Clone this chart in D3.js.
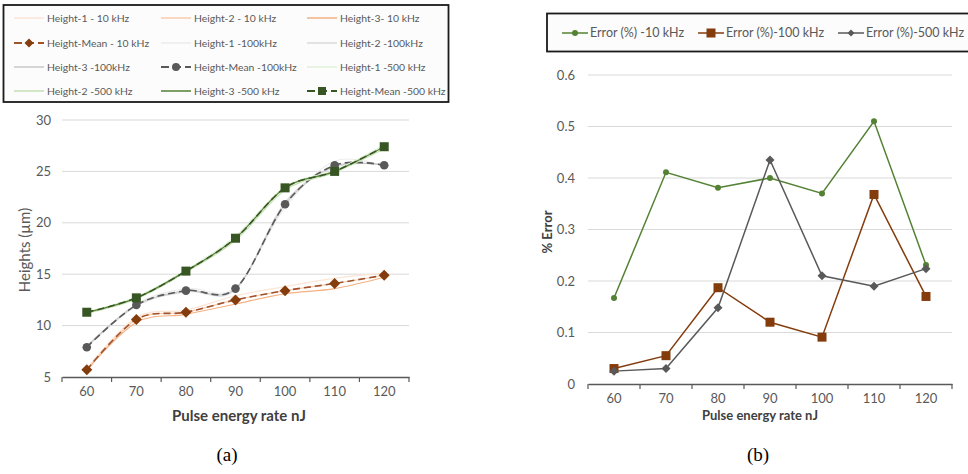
<!DOCTYPE html>
<html>
<head>
<meta charset="utf-8">
<script src="https://cdn.jsdelivr.net/npm/d3@7"></script>
<style>
  body { margin: 0; background: #fff; }
  text { font-family: Lato, "Open Sans", sans-serif; }
</style>
</head>
<body>
<svg id="fig" width="968" height="474"></svg>
<script>
// x categories (nJ)
const energies = [60, 70, 80, 90, 100, 110, 120];

// (a) heights in µm
const h1_10k   = [5.8, 10.8, 11.5, 12.9, 13.8, 14.6, 15.1];
const h2_10k   = [5.6, 10.6, 11.3, 12.5, 13.4, 14.1, 14.9];
const h3_10k   = [5.7, 10.3, 11.1, 12.1, 13.1, 13.6, 14.7];
const mean_10k = [5.7, 10.6, 11.3, 12.5, 13.4, 14.1, 14.9];
const h1_100k   = [7.9, 12.1, 13.6, 13.7, 21.5, 26.0, 25.5];
const h2_100k   = [7.9, 11.9, 13.3, 13.5, 22.0, 25.4, 25.7];
const h3_100k   = [8.0, 12.0, 13.4, 13.6, 21.8, 25.5, 25.6];
const mean_100k = [7.9, 12.0, 13.4, 13.6, 21.8, 25.6, 25.6];
const h1_500k   = [11.3, 12.8, 15.4, 18.7, 23.5, 25.1, 27.6];
const h2_500k   = [11.2, 12.6, 15.2, 18.3, 23.2, 24.9, 27.2];
const h3_500k   = [11.3, 12.7, 15.3, 18.5, 23.4, 25.0, 27.4];
const mean_500k = [11.3, 12.7, 15.3, 18.5, 23.4, 25.0, 27.4];
const heightTicks = [5, 10, 15, 20, 25, 30];

// (b) error in %
const err_10k  = [0.167, 0.411, 0.381, 0.400, 0.370, 0.510, 0.231];
const err_100k = [0.030, 0.055, 0.187, 0.120, 0.091, 0.368, 0.170];
const err_500k = [0.025, 0.030, 0.148, 0.435, 0.210, 0.190, 0.224];
const errTicks = [0, 0.1, 0.2, 0.3, 0.4, 0.5, 0.6];

const svg = d3.select('#fig');
const txtColor = '#595959';

const seriesA = [
  {name: 'Height-1 - 10 kHz', values: h1_10k, color: '#fbe5d6', width: 1.2},
  {name: 'Height-2 - 10 kHz', values: h2_10k, color: '#f8cbad', width: 1.2},
  {name: 'Height-3- 10 kHz', values: h3_10k, color: '#f4b183', width: 1.2},
  {name: 'Height-Mean - 10 kHz', values: mean_10k, color: '#a0522d', width: 1.6, dash: '7,4', marker: 'diamond', mcolor: '#843c0c'},
  {name: 'Height-1 -100kHz', values: h1_100k, color: '#ededed', width: 1.2},
  {name: 'Height-2 -100kHz', values: h2_100k, color: '#dbdbdb', width: 1.2},
  {name: 'Height-3 -100kHz', values: h3_100k, color: '#c9c9c9', width: 1.2},
  {name: 'Height-Mean -100kHz', values: mean_100k, color: '#595959', width: 1.6, dash: '7,4', marker: 'circle', mcolor: '#595959'},
  {name: 'Height-1 -500 kHz', values: h1_500k, color: '#e2f0d9', width: 1.2},
  {name: 'Height-2 -500 kHz', values: h2_500k, color: '#c5e0b4', width: 1.2},
  {name: 'Height-3 -500 kHz', values: h3_500k, color: '#548235', width: 1.2},
  {name: 'Height-Mean -500 kHz', values: mean_500k, color: '#375623', width: 1.6, dash: '7,4', marker: 'square', mcolor: '#375623'}
];

const seriesB = [
  {name: 'Error (%) -10 kHz', values: err_10k, color: '#548235', marker: 'circle', size: 3},
  {name: 'Error (%)-100 kHz', values: err_100k, color: '#843c0c', marker: 'square', size: 4.5},
  {name: 'Error (%)-500 kHz', values: err_500k, color: '#595959', marker: 'diamond', size: 4.5}
];

function drawMarker(g, type, x, y, r, color) {
  if (type === 'circle') {
    g.append('circle').attr('cx', x).attr('cy', y).attr('r', r).attr('fill', color);
  } else if (type === 'square') {
    g.append('rect').attr('x', x - r).attr('y', y - r).attr('width', 2 * r).attr('height', 2 * r).attr('fill', color);
  } else if (type === 'diamond') {
    g.append('path').attr('d', `M${x},${y - r}L${x + r},${y}L${x},${y + r}L${x - r},${y}Z`).attr('fill', color);
  }
}

function drawPanel(cfg) {
  const x = d3.scaleBand().domain(energies).range([cfg.left, cfg.right]).padding(0);
  const y = d3.scaleLinear().domain(cfg.domain).range([cfg.bottom, cfg.top]);
  const cx = d => x(d) + x.bandwidth() / 2;

  // grid
  svg.append('g').selectAll('line').data(cfg.ticks.slice(1)).join('line')
    .attr('x1', cfg.left).attr('x2', cfg.right)
    .attr('y1', d => y(d)).attr('y2', d => y(d))
    .attr('stroke', '#d9d9d9').attr('stroke-width', 1);

  // y axis labels
  const yaxis = d3.axisLeft(y).tickValues(cfg.ticks).tickSize(0).tickPadding(cfg.ypad)
    .tickFormat(cfg.yfmt);
  const yg = svg.append('g').attr('transform', `translate(${cfg.left},0)`).call(yaxis);
  yg.select('.domain').remove();
  yg.selectAll('text').attr('fill', txtColor).style('font-size', '13px');

  // x axis
  const xaxis = d3.axisBottom(x).tickSize(0).tickPadding(10);
  const xg = svg.append('g').attr('transform', `translate(0,${cfg.bottom})`).call(xaxis);
  xg.select('.domain').attr('stroke', '#595959').attr('stroke-width', 1.5);
  xg.selectAll('text').attr('fill', txtColor).style('font-size', '13px');
  const bounds = energies.map(d => x(d)).concat([cfg.right]);
  xg.selectAll('.bnd').data(bounds).join('line').attr('class', 'bnd')
    .attr('x1', d => d).attr('x2', d => d).attr('y1', 0).attr('y2', 5)
    .attr('stroke', '#595959').attr('stroke-width', 1.2);

  return {x, y, cx};
}

// ---------- panel (a)
const A = drawPanel({left: 62, right: 409, top: 120, bottom: 377, domain: [5, 30],
  ticks: heightTicks, ypad: 11, yfmt: d3.format('d')});

const lineA = d3.line().x((d, i) => A.cx(energies[i])).y(d => A.y(d)).curve(d3.curveCardinal.tension(0));

const gA = svg.append('g');
seriesA.forEach(s => {
  gA.append('path').attr('d', lineA(s.values)).attr('fill', 'none')
    .attr('stroke', s.color).attr('stroke-width', s.width)
    .attr('stroke-dasharray', s.dash || null);
});
seriesA.filter(s => s.marker).forEach(s => {
  s.values.forEach((v, i) => drawMarker(gA, s.marker, A.cx(energies[i]), A.y(v), s.marker === 'circle' ? 4.3 : (s.marker === 'diamond' ? 5.5 : 4.5), s.mcolor));
});

svg.append('text').attr('x', 239).attr('y', 421).attr('text-anchor', 'middle')
  .style('font-size', '15px').style('font-weight', 'bold').attr('fill', '#404040')
  .text('Pulse energy rate nJ');
svg.append('text').attr('transform', 'translate(30,250) rotate(-90)').attr('text-anchor', 'middle')
  .style('font-size', '15px').attr('fill', txtColor).text('Heights (µm)');

// legend (a)
const legA = svg.append('g');
legA.append('rect').attr('x', 3.5).attr('y', 5).attr('width', 445).attr('height', 97)
  .attr('fill', '#fcfcfc').attr('stroke', '#1a1a1a').attr('stroke-width', 1.8);
const colX = [14, 161, 307], rowY = [18, 43, 67, 91];
seriesA.forEach((s, i) => {
  const lx = colX[i % 3], ly = rowY[Math.floor(i / 3)];
  legA.append('line').attr('x1', lx).attr('x2', lx + 30).attr('y1', ly).attr('y2', ly)
    .attr('stroke', s.color).attr('stroke-width', s.marker ? 2 : 1.5)
    .attr('stroke-dasharray', s.dash ? '8,4' : null);
  if (s.marker) drawMarker(legA, s.marker, lx + 15, ly, s.marker === 'diamond' ? 4.5 : 4, s.mcolor);
  legA.append('text').attr('x', lx + 33).attr('y', ly).attr('dy', '0.35em')
    .style('font-size', '10.4px').attr('fill', txtColor).text(s.name);
});

// ---------- panel (b)
const B = drawPanel({left: 588, right: 952, top: 75, bottom: 384, domain: [0, 0.6],
  ticks: errTicks, ypad: 13, yfmt: d => d === 0 ? '0' : d3.format('.1f')(d)});

const lineB = d3.line().x((d, i) => B.cx(energies[i])).y(d => B.y(d));
const gB = svg.append('g');
seriesB.forEach(s => {
  gB.append('path').attr('d', lineB(s.values)).attr('fill', 'none')
    .attr('stroke', s.color).attr('stroke-width', 1.5);
});
seriesB.forEach(s => {
  s.values.forEach((v, i) => drawMarker(gB, s.marker, B.cx(energies[i]), B.y(v), s.size, s.color));
});

svg.append('text').attr('x', 760).attr('y', 420).attr('text-anchor', 'middle')
  .style('font-size', '13px').style('font-weight', 'bold').attr('fill', '#404040')
  .text('Pulse energy rate nJ');
svg.append('text').attr('transform', 'translate(552,232) rotate(-90)').attr('text-anchor', 'middle')
  .style('font-size', '13px').style('font-weight', 'bold').attr('fill', '#404040').text('% Error');

// legend (b)
const legB = svg.append('g');
legB.append('rect').attr('x', 547).attr('y', 13.5).attr('width', 425).attr('height', 38)
  .attr('fill', '#fcfcfc').attr('stroke', '#1a1a1a').attr('stroke-width', 1.8);
const legBX = [562, 698, 838];
seriesB.forEach((s, i) => {
  const lx = legBX[i], ly = 33;
  legB.append('line').attr('x1', lx).attr('x2', lx + 26).attr('y1', ly).attr('y2', ly)
    .attr('stroke', s.color).attr('stroke-width', 1.5);
  drawMarker(legB, s.marker, lx + 13, ly, s.marker === 'circle' ? 3 : (s.marker === 'square' ? 4.5 : 3.5), s.color);
  legB.append('text').attr('x', lx + 28).attr('y', ly).attr('dy', '0.35em')
    .style('font-size', '12.5px').attr('fill', txtColor).text(s.name);
});

// captions
svg.append('text').attr('x', 227).attr('y', 461).attr('text-anchor', 'middle')
  .style('font-family', '"Liberation Serif", "DejaVu Serif", serif').style('font-size', '19px')
  .attr('fill', '#000').text('(a)');
svg.append('text').attr('x', 758).attr('y', 461).attr('text-anchor', 'middle')
  .style('font-family', '"Liberation Serif", "DejaVu Serif", serif').style('font-size', '19px')
  .attr('fill', '#000').text('(b)');
</script>
</body>
</html>
